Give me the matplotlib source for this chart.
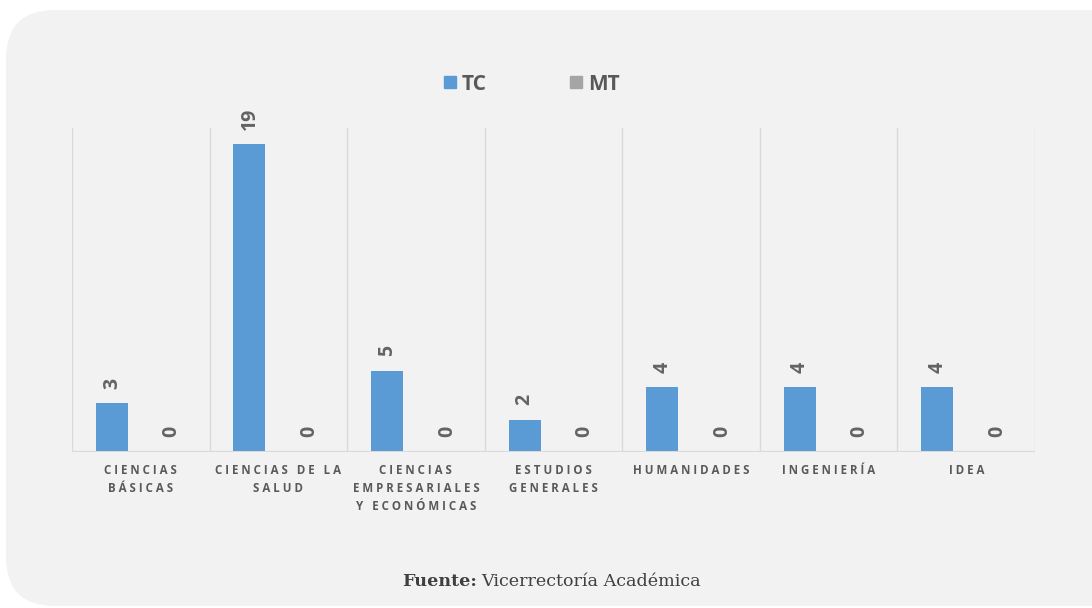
import matplotlib
matplotlib.use("Agg")
import matplotlib.pyplot as plt
import numpy as np
from matplotlib.patches import FancyBboxPatch, Patch

# Datos
categorias = ["CIENCIAS\nBÁSICAS", "CIENCIAS DE LA\nSALUD", "CIENCIAS\nEMPRESARIALES\nY ECONÓMICAS",
              "ESTUDIOS\nGENERALES", "HUMANIDADES", "INGENIERÍA", "IDEA"]
tc = [3, 19, 5, 2, 4, 4, 4]
mt = [0, 0, 0, 0, 0, 0, 0]
series = ["TC", "MT"]
colores = ["#5b9bd5", "#a5a5a5"]


def espaciar(texto):
    # simula el espaciado entre letras
    return "\n".join(" ".join(linea) for linea in texto.split("\n"))


fig = plt.figure(figsize=(10.92, 6.08), dpi=100)
fig.patch.set_facecolor("white")

# Fondo redondeado
fondo = FancyBboxPatch((6 / 1092, 2 / 608), 1.2, 596 / 608,
                       boxstyle="round,pad=0,rounding_size=0.045",
                       transform=fig.transFigure, facecolor="#f2f2f2",
                       edgecolor="none", mutation_aspect=1092 / 608, zorder=-5)
fig.patches.append(fondo)

ax = fig.add_axes([72 / 1092, 1 - 452 / 608, (1035 - 72) / 1092, (452 - 128) / 608])
ax.set_facecolor("none")

x = np.arange(len(categorias))
ancho = 0.233
b1 = ax.bar(x - 0.21, tc, ancho, color=colores[0], zorder=3)
b2 = ax.bar(x + 0.225, mt, ancho, color=colores[1], zorder=3)

for barras, vals in [(b1, tc), (b2, mt)]:
    for b, v in zip(barras, vals):
        ax.text(b.get_x() + b.get_width() / 2, v + 0.9, str(v), rotation=90,
                ha="center", va="bottom", fontsize=14, fontweight="bold",
                color="#636363", family="Open Sans")

ax.set_xlim(-0.5, len(categorias) - 0.5)
ax.set_ylim(0, 20)

# Separadores verticales
for s in np.arange(-0.5, len(categorias), 1):
    ax.axvline(s, color="#d9d9d9", lw=1, zorder=1)
ax.axhline(0, color="#d9d9d9", lw=1.5, zorder=4)

for sp in ax.spines.values():
    sp.set_visible(False)
ax.set_yticks([])
ax.set_xticks(x)
ax.set_xticklabels([espaciar(c) for c in categorias], fontsize=8.3, fontweight="bold",
                   color="#595959", family="Open Sans",
                   linespacing=1.45, va="top")
ax.tick_params(axis="x", length=0, pad=9)

# Leyenda
handles = [Patch(color=c, label=s) for s, c in zip(series, colores)]
fig.legend(handles=handles, loc="center", bbox_to_anchor=(532 / 1092, 1 - 84 / 608),
           ncol=2, frameon=False, handlelength=0.55, handleheight=0.55,
           columnspacing=4.0, handletextpad=0.3,
           prop={"family": "Open Sans", "weight": "bold", "size": 15},
           labelcolor="#595959")

# Fuente
fig.text(477 / 1092, 1 - 581 / 608, "Fuente:", ha="right", va="center",
         fontsize=12.6, fontweight="bold", family="DejaVu Serif", color="#404040")
fig.text(481 / 1092, 1 - 581 / 608, "Vicerrectoría Académica", ha="left", va="center",
         fontsize=12.6, family="DejaVu Serif", color="#404040")

fig.savefig("out.png", dpi=100)
